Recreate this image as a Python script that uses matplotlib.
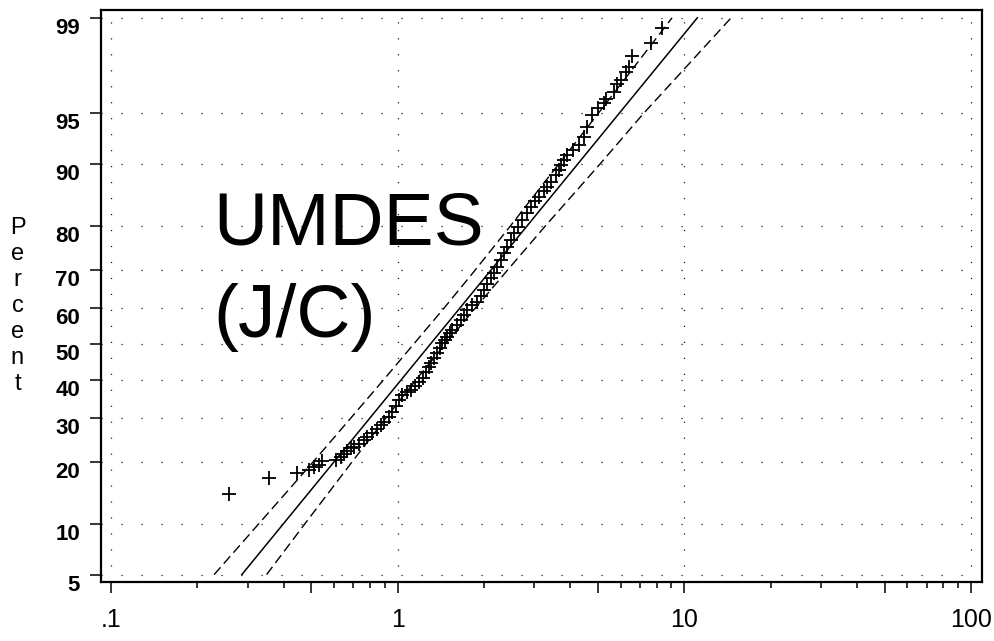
import numpy as np
import matplotlib
matplotlib.use('Agg')
import matplotlib.pyplot as plt
from matplotlib.ticker import FixedLocator, FuncFormatter, NullFormatter, NullLocator
from matplotlib.transforms import ScaledTranslation
from statistics import NormalDist

plt.rcParams['font.family'] = ['Liberation Sans', 'DejaVu Sans']
plt.rcParams['lines.scale_dashes'] = False

# observed points (value, cumulative percent)
x_pts = [0.258, 0.356, 0.447, 0.490, 0.510, 0.530, 0.546, 0.608, 0.633, 0.650,
         0.668, 0.686, 0.704, 0.733, 0.763, 0.784, 0.816, 0.850, 0.872, 0.896,
         0.933, 0.958, 0.984, 1.010, 1.038, 1.075, 1.110, 1.146, 1.184, 1.222,
         1.252, 1.283, 1.303, 1.335, 1.375, 1.401, 1.432, 1.458, 1.491, 1.519,
         1.552, 1.606, 1.659, 1.699, 1.750, 1.812, 1.897, 1.948, 2.000, 2.044,
         2.111, 2.168, 2.227, 2.287, 2.343, 2.413, 2.478, 2.545, 2.622, 2.723,
         2.818, 2.910, 3.005, 3.111, 3.231, 3.328, 3.418, 3.557, 3.644, 3.703,
         3.802, 3.907, 4.077, 4.289, 4.465, 4.589, 4.777, 4.985, 5.244, 5.316,
         5.680, 5.838, 5.995, 6.241, 6.408, 6.585, 7.628, 8.381]
pct_pts = [14.3, 16.9, 17.8, 18.4, 19.0, 19.5, 20.1, 20.4, 21.0, 21.6,
           22.3, 22.9, 23.2, 23.8, 24.7, 25.4, 26.2, 27.2, 28.2, 29.0,
           30.2, 31.5, 32.8, 34.5, 35.8, 36.6, 37.1, 38.2, 39.3, 40.4,
           42.2, 43.5, 44.5, 46.0, 47.4, 48.9, 50.2, 51.1, 52.1, 53.1,
           54.0, 55.4, 56.8, 58.2, 59.6, 60.9, 61.9, 63.4, 65.0, 66.6,
           68.1, 69.3, 70.9, 72.5, 74.2, 75.6, 77.1, 78.5, 79.8, 81.2,
           82.5, 83.6, 84.6, 85.3, 86.2, 86.9, 87.6, 88.6, 89.3, 89.9,
           90.5, 91.1, 91.7, 92.2, 93.0, 93.9, 94.9, 95.4, 95.7, 96.0,
           96.4, 96.8, 97.0, 97.4, 97.6, 98.0, 98.4, 98.8]

# fitted line and confidence band
fit_pct = [5, 99]
fit_x = [0.286, 11.1]
band_pct = [5, 10, 20, 30, 40, 50, 60, 70, 80, 90, 95, 99]
lower_x = [0.229, 0.328, 0.507, 0.689, 0.895, 1.138, 1.448, 1.859, 2.473, 3.64, 5.01, 9.06]
upper_x = [0.349, 0.475, 0.693, 0.913, 1.161, 1.467, 1.861, 2.411, 3.274, 5.07, 7.21, 14.56]

y_ticks = [5, 10, 20, 30, 40, 50, 60, 70, 80, 90, 95, 99]
x_decades = [0.1, 1, 10, 100]
x_labels = {0.1: '.1', 1: '1', 10: '10', 100: '100'}

nd = NormalDist()


def to_z(p):
    p = np.clip(np.asarray(p, dtype=float), 1e-6, 100 - 1e-6)
    return np.vectorize(lambda v: nd.inv_cdf(v / 100.0), otypes=[float])(p)


def to_pct(z):
    z = np.asarray(z, dtype=float)
    return np.vectorize(lambda v: nd.cdf(v) * 100.0, otypes=[float])(z)


W, H = 994, 641
fig = plt.figure(figsize=(W / 100, H / 100), dpi=100)
ax = fig.add_axes([101 / W, 1 - 582 / H, (982 - 101) / W, (582 - 10) / H])
ax.set_xscale('log')
ax.set_yscale('function', functions=(to_z, to_pct))
ax.set_xlim(0.0923, 109.2)
ax.set_ylim(float(to_pct(-1.6976)), float(to_pct(2.382)))

# dotted grid
for xv in x_decades:
    ax.axvline(xv, color='k', lw=0.9, ls=(0, (0.8, 10.7)), zorder=0)
for p in y_ticks:
    ax.axhline(p, color='k', lw=0.9, ls=(0, (0.8, 13.6)), zorder=0)

ax.plot(fit_x, fit_pct, color='k', lw=1.1)
ax.plot(lower_x, band_pct, color='k', lw=1.0, ls=(0, (7, 3.5)))
ax.plot(upper_x, band_pct, color='k', lw=1.0, ls=(0, (7, 3.5)))
ax.plot(x_pts, pct_pts, '+', color='k', ms=10.5, mew=1.3)

# axes
ax.xaxis.set_major_locator(FixedLocator([0.1, 0.5, 1, 5, 10, 50, 100]))
ax.xaxis.set_major_formatter(FuncFormatter(
    lambda v, pos: next((s for k, s in x_labels.items() if abs(v - k) < 1e-9 * k), '')))
ax.xaxis.set_minor_locator(FixedLocator([m * d for d in (0.1, 1, 10) for m in (2, 3, 4, 6, 7, 8, 9)]))
ax.xaxis.set_minor_formatter(NullFormatter())
ax.yaxis.set_major_locator(FixedLocator(y_ticks))
ax.yaxis.set_major_formatter(FuncFormatter(lambda v, pos: '%d' % round(v)))
ax.yaxis.set_minor_locator(NullLocator())

ax.tick_params(axis='x', which='major', length=8, width=1.1, direction='out',
               labelsize=18, pad=11)
ax.tick_params(axis='x', which='minor', length=4.5, width=1.1, direction='out')
ax.tick_params(axis='y', which='major', length=8, width=1.1, direction='out',
               labelsize=16, pad=7)
for lab in ax.get_yticklabels():
    lab.set_fontweight('bold')
for s in ax.spines.values():
    s.set_linewidth(1.6)

# stacked axis label
for i, ch in enumerate('Percent'):
    fig.text(17.5 / W, 1 - (234 + 26 * i) / H, ch, ha='center', va='baseline', fontsize=17)

fig.text(213 / W, 1 - 245 / H, 'UMDES', fontsize=54, va='baseline')
fig.text(213 / W, 1 - 337 / H, '(J/C)', fontsize=54, va='baseline')

fig.canvas.draw()
for lab in ax.get_yticklabels():
    lab.set_fontweight('bold')
    lab.set_transform(lab.get_transform() + ScaledTranslation(0, -0.08, fig.dpi_scale_trans))

fig.savefig('out.png', dpi=100)
